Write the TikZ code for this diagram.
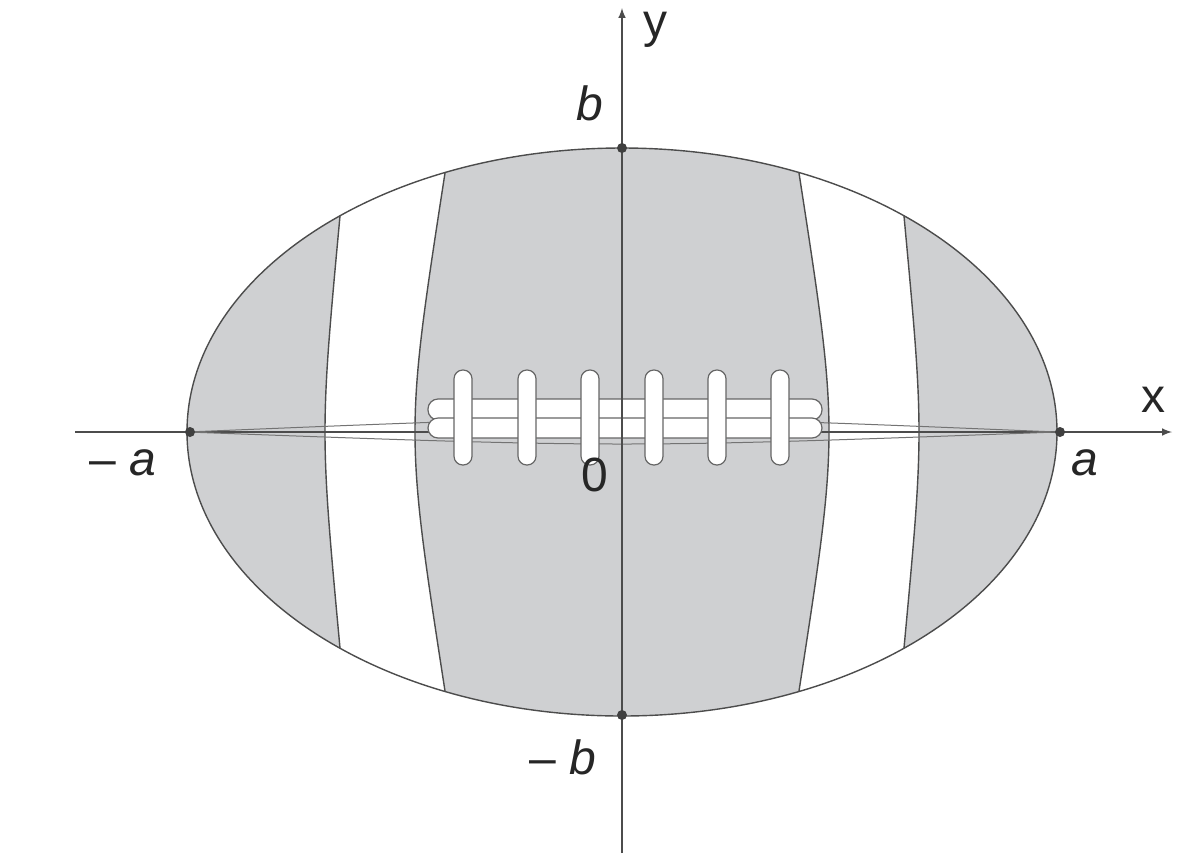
\documentclass[tikz,border=0pt]{standalone}
\usepackage{fontspec}
\setmainfont{Liberation Sans}
\begin{document}
\begin{tikzpicture}[x=0.5pt,y=-0.5pt,
  ln/.style={draw=black!70,line width=0.7pt},
  lace/.style={draw=black!60,fill=white,line width=0.6pt},
  dotc/.style={circle,fill=black!75,inner sep=0pt,minimum size=5pt},
  lbl/.style={font=\fontsize{24}{24}\selectfont,text=black!85}]
\useasboundingbox (0,0) rectangle (1200,853);
\definecolor{ball}{HTML}{CFD0D2}
\fill[ball] (622,432) ellipse [x radius=435,y radius=284];
\begin{scope}
\clip (622,432) ellipse [x radius=435,y radius=284];
\fill[white] (340,216) .. controls (320,432) .. (340,648) -- (340,800) -- (445,800) -- (445,691) .. controls (405,432) .. (445,173) -- (445,50) -- (340,50) -- cycle;
\fill[white] (904,216) .. controls (924,432) .. (904,648) -- (904,800) -- (799,800) -- (799,691) .. controls (839,432) .. (799,173) -- (799,50) -- (904,50) -- cycle;
\end{scope}
\draw[ln] (340,216) .. controls (320,432) .. (340,648);
\draw[ln] (445,173) .. controls (405,432) .. (445,691);
\draw[ln] (904,216) .. controls (924,432) .. (904,648);
\draw[ln] (799,173) .. controls (839,432) .. (799,691);
\draw[ln] (622,432) ellipse [x radius=435,y radius=284];
% axes
\draw[ln,-latex] (75,432) -- (1172,432);
\draw[ln,draw=black!55,line width=0.5pt] (187,432) .. controls (622,414) .. (1057,432);
\draw[ln,draw=black!55,line width=0.5pt] (187,432) .. controls (622,448) .. (1057,432);
% laces
\draw[lace,rounded corners=5pt] (428,399) rectangle (822,420);
\draw[lace,rounded corners=5pt] (428,418) rectangle (822,438);
\foreach \x in {463,527,590,654,717,780}
  \draw[lace,rounded corners=4.4pt] (\x-9,370) rectangle (\x+9,465);
\draw[ln,-latex] (622,853) -- (622,8);
\node[dotc] (pb) at (622,148) {};
\node[dotc] (nb) at (622,715) {};
\node[dotc] (na) at (190,432) {};
\node[dotc] (pa) at (1060,432) {};
\node[lbl] (lb) at (590,103) {\itshape b};
\node[lbl] (lnb) at (563,757) {– \itshape b};
\node[lbl] (lna) at (123,463) {– \itshape a};
\node[lbl] (la) at (1085,463) {\itshape a};
\node[lbl] (l0) at (595,475) {0};
\node[lbl] (lx) at (1153,400) {x};
\node[lbl] (ly) at (655,30) {y};
\end{tikzpicture}
\end{document}
